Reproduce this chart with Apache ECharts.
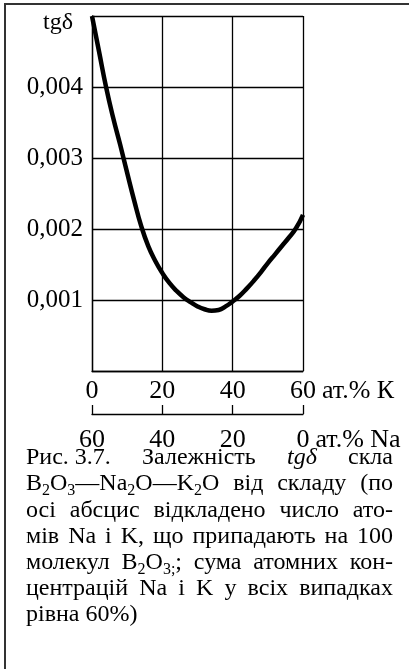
<!DOCTYPE html>
<html><head><meta charset="utf-8">
<script src="https://cdn.jsdelivr.net/npm/echarts@6/dist/echarts.min.js"></script>
<style>html,body{margin:0;padding:0;background:#fff}#c{width:409px;height:669px}</style>
</head><body><div id="c"></div>
<script>
// ---- data ----
const atK = [0, 2, 4, 6, 8, 10, 12, 14, 16, 18, 20, 22, 24, 26, 28, 30, 32, 34, 36, 38, 40, 42, 44, 46, 48, 50, 52, 54, 56, 58, 60];
const tgDelta = [0.00500, 0.00450, 0.00400, 0.00357, 0.00319, 0.00279, 0.00240, 0.00204, 0.00176, 0.00155, 0.00138,
                 0.00124, 0.00113, 0.00104, 0.00097, 0.00091, 0.00087, 0.00085, 0.00086, 0.00091, 0.00098,
                 0.00106, 0.00116, 0.00127, 0.00139, 0.00152, 0.00164, 0.00176, 0.00188, 0.00201, 0.00220];
const kTicks = [0, 20, 40, 60];
const kTickLabels = ['0', '20', '40', '60'];
const naTickLabels = ['60', '40', '20', '0'];
const yTicks = [0.001, 0.002, 0.003, 0.004];
const yTickLabels = ['0,001', '0,002', '0,003', '0,004'];
const yTitle = 'tgδ';
const kName = 'ат.% К';
const naName = 'ат.% Na';
const captionLines = [
  ['Рис.\u00a03.7.', 'Залежність', '*tgδ*', 'скла'],
  ['B_{2}O_{3}—Na_{2}O—K_{2}O', 'від', 'складу', '(по'],
  ['осі', 'абсцис', 'відкладено', 'число', 'ато-'],
  ['мів', 'Na', 'і', 'K,', 'що', 'припадають', 'на', '100'],
  ['молекул', 'B_{2}O_{3;};', 'сума', 'атомних', 'кон-'],
  ['центрацій', 'Na', 'і', 'K', 'у', 'всіх', 'випадках'],
  ['рівна 60%)']
];

// ---- chart ----
const FONT = 'Liberation Serif';
const chart = echarts.init(document.getElementById('c'), null, {renderer: 'canvas'});

const mctx = document.createElement('canvas').getContext('2d');
function measure(t, size, italic) {
  mctx.font = (italic ? 'italic ' : 'normal ') + 'normal ' + size + 'px "' + FONT + '"';
  return mctx.measureText(t).width;
}
function parseWord(w) {
  let italic = false;
  if (w.startsWith('*') && w.endsWith('*')) { italic = true; w = w.slice(1, -1); }
  const segs = [];
  const re = /_\{([^}]*)\}/g;
  let last = 0, m;
  while ((m = re.exec(w))) {
    if (m.index > last) segs.push({t: w.slice(last, m.index), sub: false, italic});
    segs.push({t: m[1], sub: true, italic});
    last = re.lastIndex;
  }
  if (last < w.length) segs.push({t: w.slice(last), sub: false, italic});
  return segs;
}
const CAP_SIZE = 24, SUB_SIZE = 16;
const capLeft = 26, capRight = 393, capBase0 = 466, capStep = 26.2;
const graphics = [];
captionLines.forEach((words, li) => {
  const parsed = words.map(parseWord);
  const widths = parsed.map(segs => segs.reduce((s, g) => s + measure(g.t, g.sub ? SUB_SIZE : CAP_SIZE, g.italic), 0));
  const total = widths.reduce((a, b) => a + b, 0);
  const last = li === captionLines.length - 1;
  const gap = (!last && words.length > 1) ? (capRight - capLeft - total) / (words.length - 1) : 6;
  const base = capBase0 + li * capStep;
  let x = capLeft;
  parsed.forEach((segs, wi) => {
    segs.forEach(g => {
      const size = g.sub ? SUB_SIZE : CAP_SIZE;
      const yb = g.sub ? base + 4 : base;
      graphics.push({
        type: 'text', x: x, y: yb - 0.3375 * size,
        style: {text: g.t, fill: '#000', fontSize: size, fontFamily: FONT, fontStyle: g.italic ? 'italic' : 'normal',
                align: 'left', verticalAlign: 'middle'}
      });
      x += measure(g.t, size, g.italic);
    });
    x += gap;
  });
});
// y-axis title and outer frame
graphics.push({type: 'text', x: 43, y: 23, style: {text: yTitle, fill: '#000', fontSize: 24, fontFamily: FONT, align: 'left', verticalAlign: 'middle'}});
graphics.push({type: 'line', shape: {x1: 4, y1: 4, x2: 409, y2: 4}, style: {stroke: '#333', lineWidth: 2}});
graphics.push({type: 'line', shape: {x1: 5, y1: 4, x2: 5, y2: 669}, style: {stroke: '#333', lineWidth: 2}});

const lineBlack = {color: '#000', width: 1.3};
const option = {
  animation: false,
  backgroundColor: '#fff',
  grid: {left: 92, top: 16, right: 106, bottom: 298, containLabel: false},
  xAxis: [
    {
      type: 'value', min: 0, max: 60, interval: 20, position: 'bottom',
      axisLine: {show: true, lineStyle: lineBlack},
      axisTick: {show: false},
      splitLine: {show: true, lineStyle: lineBlack},
      axisLabel: {color: '#000', fontSize: 26, fontFamily: FONT, margin: 7,
        formatter: v => { const i = kTicks.indexOf(v); return i >= 0 ? kTickLabels[i] : ''; }},
      name: kName, nameLocation: 'end', nameGap: 0,
      nameTextStyle: {color: '#000', fontSize: 26, fontFamily: FONT, align: 'left', verticalAlign: 'top', padding: [7, 0, 0, 0]}
    },
    {
      type: 'value', min: 0, max: 60, interval: 20, position: 'bottom', offset: 43,
      axisLine: {show: true, onZero: false, lineStyle: lineBlack},
      axisTick: {show: true, inside: true, length: 9, lineStyle: lineBlack},
      splitLine: {show: false},
      axisLabel: {color: '#000', fontSize: 26, fontFamily: FONT, margin: 13,
        formatter: v => { const i = kTicks.indexOf(v); return i >= 0 ? naTickLabels[i] : ''; }},
      name: naName, nameLocation: 'end', nameGap: 6,
      nameTextStyle: {color: '#000', fontSize: 26, fontFamily: FONT, align: 'left', verticalAlign: 'top', padding: [13, 0, 0, 0]}
    }
  ],
  yAxis: {
    type: 'value', min: 0, max: 0.005, interval: 0.001,
    axisLine: {show: true, lineStyle: lineBlack},
    axisTick: {show: false},
    splitLine: {show: true, lineStyle: lineBlack},
    axisLabel: {color: '#000', fontSize: 25, fontFamily: FONT, margin: 9,
      formatter: v => { for (let i = 0; i < yTicks.length; i++) if (Math.abs(v - yTicks[i]) < 1e-9) return yTickLabels[i]; return ''; }}
  },
  series: [{
    type: 'line', xAxisIndex: 0, yAxisIndex: 0,
    data: atK.map((x, i) => [x, tgDelta[i]]),
    smooth: 0.5, showSymbol: false, clip: false,
    lineStyle: {color: '#000', width: 4.5}
  }],
  graphic: graphics
};
chart.setOption(option);
</script>
</body></html>
